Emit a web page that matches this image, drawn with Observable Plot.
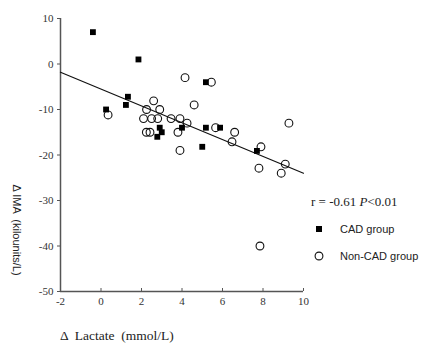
<!DOCTYPE html>
<html>
<head>
<meta charset="utf-8">
<script src="https://cdn.jsdelivr.net/npm/d3@7"></script>
<script src="https://cdn.jsdelivr.net/npm/@observablehq/plot@0.6"></script>
<style>
  html, body { margin: 0; padding: 0; background: #fff; }
</style>
</head>
<body>
<div id="chart"></div>
<script>
// CAD group (filled squares)
const cadX = [-0.4, 1.85, 0.25, 1.33, 1.23, 2.9, 3.0, 2.78, 4.0, 5.0, 5.18, 5.18, 5.88, 7.7];
const cadY = [7, 1, -10, -7.2, -9, -14, -15, -16, -14, -18.2, -4, -14, -14, -19.1];
// Non-CAD group (open circles)
const nonX = [0.35, 2.6, 2.25, 2.9, 2.1, 2.5, 2.8, 3.46, 3.9, 4.25, 2.24, 2.42, 3.8, 3.9, 4.15, 4.6, 5.45, 5.66, 6.6, 6.47, 9.28, 7.9, 7.8, 9.1, 8.9, 7.85];
const nonY = [-11.2, -8.1, -10, -10, -12, -12, -12, -12, -12, -13, -15, -15, -15, -19, -3, -9, -4, -14, -15, -17.1, -13, -18.2, -22.9, -22, -24, -40];
// Fitted regression line
const fitIntercept = -5.5;
const fitSlope = -1.85;
const fitRange = [-2, 10];
// Axis ticks
const xTicks = [-2, 0, 2, 4, 6, 8, 10];
const yTicks = [10, 0, -10, -20, -30, -40, -50];

const cad = cadX.map((x, i) => ({x, y: cadY[i]}));
const non = nonX.map((x, i) => ({x, y: nonY[i]}));
const fit = fitRange.map(x => ({x, y: fitIntercept + fitSlope * x}));

const axisColor = "#555";
const serif = "'Liberation Serif', 'Times New Roman', serif";
const sans = "'Liberation Sans', Arial, sans-serif";

const plot = Plot.plot({
  width: 430,
  height: 355,
  marginLeft: 60,
  marginRight: 127,
  marginTop: 18,
  marginBottom: 64,
  style: {fontFamily: serif, fontSize: "11px", color: "#333", background: "#fff"},
  x: {domain: [-2, 10]},
  y: {domain: [-50, 10]},
  marks: [
    Plot.ruleX([-2], {stroke: axisColor, strokeWidth: 1.5}),
    Plot.ruleY([-50], {stroke: axisColor, strokeWidth: 1.5}),
    Plot.axisY({ticks: yTicks, tickSize: 3, tickPadding: 4, tickFormat: d => String(d), label: null, stroke: axisColor, fill: "#333", fontSize: 11, fontFamily: serif}),
    Plot.axisX({ticks: xTicks, tickSize: -3, tickPadding: 9, tickFormat: d => String(d), label: null, stroke: axisColor, fill: "#333", fontSize: 11, fontFamily: serif}),
    Plot.line(fit, {x: "x", y: "y", stroke: "#111", strokeWidth: 1.2}),
    Plot.dot(non, {x: "x", y: "y", r: 3.9, stroke: "#111", strokeWidth: 1.1, fill: "none"}),
    Plot.dot(cad, {x: "x", y: "y", symbol: "square", r: 3.3, fill: "#000", stroke: "none"})
  ]
});

const svg = d3.select(plot);
svg.selectAll("[aria-label='y-axis tick label'], [aria-label='x-axis tick label']")
  .style("font-family", serif).style("font-size", "11px");
svg.selectAll("[aria-label='y-axis tick label'] text, [aria-label='x-axis tick label'] text")
  .style("font-family", serif);

// y-axis label (rotated clockwise)
svg.append("text")
  .attr("transform", "translate(13,230) rotate(90)")
  .attr("text-anchor", "middle")
  .attr("font-family", sans)
  .attr("font-size", 11)
  .attr("fill", "#222")
  .attr("xml:space", "preserve")
  .text("Δ IMA  (kilounits/L)");

// x-axis label
svg.append("text")
  .attr("x", 60).attr("y", 340)
  .attr("text-anchor", "start")
  .attr("font-family", serif)
  .attr("font-size", 13.5)
  .attr("fill", "#222")
  .attr("xml:space", "preserve")
  .text("Δ  Lactate  (mmol/L)");

// correlation annotation
const r = svg.append("text")
  .attr("x", 311).attr("y", 206)
  .attr("text-anchor", "start")
  .attr("font-family", serif)
  .attr("font-size", 13)
  .attr("fill", "#222");
r.append("tspan").text("r = -0.61 ");
r.append("tspan").attr("font-style", "italic").text("P");
r.append("tspan").text("<0.01");

// legend
svg.append("rect").attr("x", 316).attr("y", 226).attr("width", 6).attr("height", 6).attr("fill", "#000");
svg.append("text").attr("x", 340).attr("y", 233).attr("text-anchor", "start")
  .attr("font-family", sans).attr("font-size", 11).attr("fill", "#222")
  .text("CAD group");
svg.append("circle").attr("cx", 319).attr("cy", 256).attr("r", 3.9).attr("fill", "none").attr("stroke", "#111").attr("stroke-width", 1.1);
svg.append("text").attr("x", 340).attr("y", 260).attr("text-anchor", "start")
  .attr("font-family", sans).attr("font-size", 11).attr("fill", "#222")
  .text("Non-CAD group");

document.getElementById("chart").appendChild(plot);
</script>
</body>
</html>
